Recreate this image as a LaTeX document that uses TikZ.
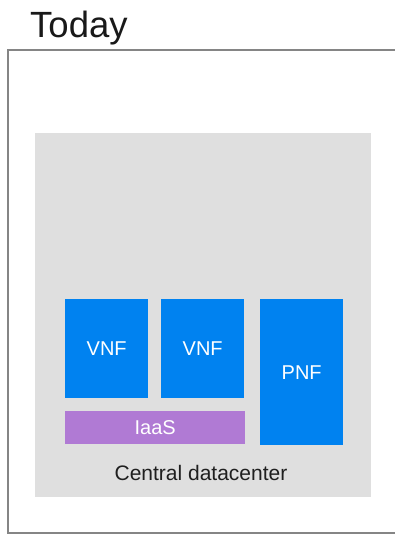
\documentclass[tikz,border=0pt]{standalone}
\usepackage{fontspec}
\setmainfont{Liberation Sans}
\usepackage{xcolor}
\usetikzlibrary{positioning}
\definecolor{dcgray}{HTML}{DFDFDF}
\definecolor{nfblue}{HTML}{0082F0}
\definecolor{iaaspurple}{HTML}{B07AD4}
\definecolor{framegray}{HTML}{858585}

\begin{document}
\begin{tikzpicture}[x=1pt,y=-1pt,
		box/.style = {inner sep=0pt, text=white, font=\fontsize{20}{20}\selectfont},
		nf/.style = {box, fill=nfblue, minimum width=83pt},
		vnf/.style = {nf, minimum height=99pt},
		pnf/.style = {nf, minimum height=146pt}]
		\useasboundingbox (0,0) rectangle (394,534);
		\draw[framegray, line width=2.2pt] (396,50) -- (8,50) -- (8,533) -- (396,533);
		\node[anchor=base west, inner sep=0pt, font=\fontsize{36.5}{36.5}\selectfont, text=black!90] (today) at (30,38) {Today};
		\node[fill=dcgray, minimum width=336pt, minimum height=364pt, inner sep=0pt] (dc) at (203,315) {};
		\node[vnf, anchor=north west] (vnfa) at (65,299) {VNF};
		\node[vnf, anchor=north west] (vnfb) at (161,299) {VNF};
		\node[pnf, anchor=north west] (pnf) at (260,299) {PNF};
		\node[box, fill=iaaspurple, anchor=north west, minimum width=180pt, minimum height=33pt] (iaas) at (65,411) {IaaS};
		\node[anchor=base, inner sep=0pt, font=\fontsize{21}{21}\selectfont, text=black!88] (dclabel) at (201,480) {Central datacenter};
	\end{tikzpicture}
\end{document}
